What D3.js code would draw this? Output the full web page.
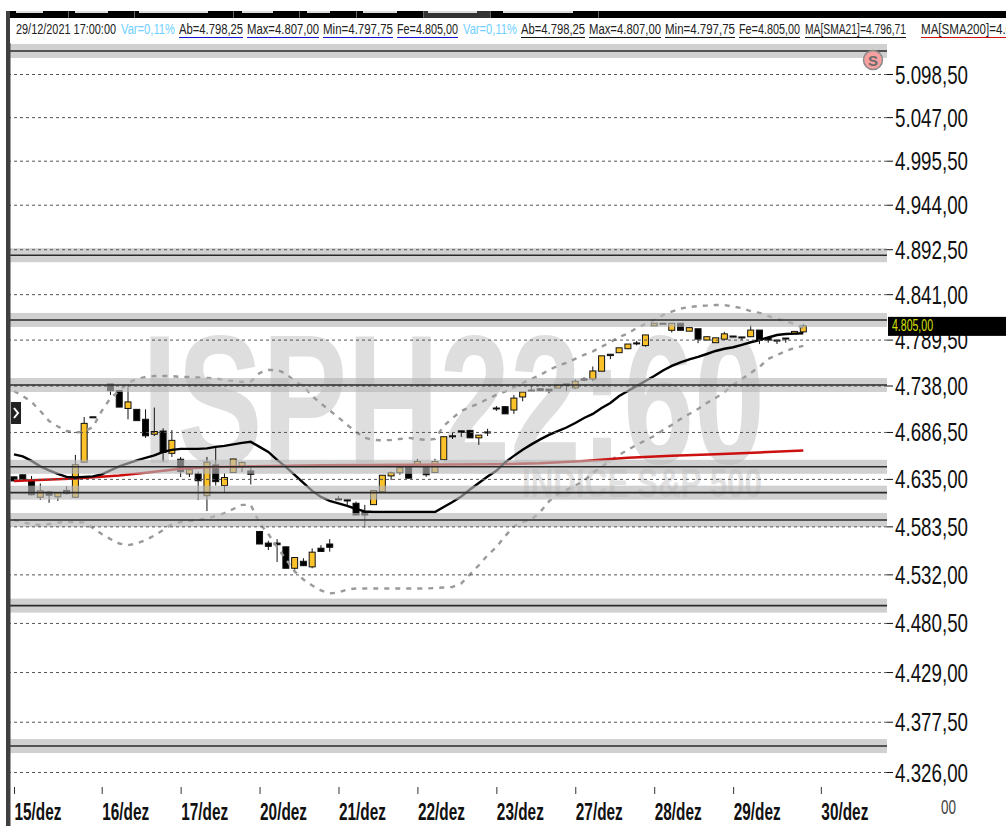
<!DOCTYPE html>
<html>
<head>
<meta charset="utf-8">
<title>ISPH22:60</title>
<script src="https://cdn.jsdelivr.net/npm/d3@7"></script>
<style>
  html, body { margin: 0; padding: 0; background: #fff; }
  svg { display: block; font-family: "Liberation Sans", Arial, sans-serif; }
</style>
</head>
<body>
<svg id="chart" width="1006" height="826"></svg>
<script>
// candles, one slot per bar (bar 10 is empty in the picture)
var opens = [
  4637.25, 4639.5, 4633, 4615, 4620.75, 4615.5, 4622.5, 4615, 4653.25, 4703.25,
  null, 4739.75, 4732.25, 4712.5, 4711.5, 4700.5, 4684, 4687.5, 4663, 4656.5,
  4640.5, 4640.5, 4616.75, 4650.25, 4627.75, 4642, 4648, 4643.75, 4578, 4565.5,
  4565.5, 4561.5, 4538.5, 4546, 4540, 4560, 4564.5, 4613.5, 4612.75, 4608.5,
  4598.25, 4607, 4621, 4638.25, 4641.75, 4649.25, 4648.5, 4649.25, 4642, 4656,
  4682.25, 4687.75, 4688.25, 4680, 4686.5, 4713, 4714.5, 4710.75, 4725.25, 4733,
  4734.5, 4734, 4735.25, 4739.75, 4735.25, 4745.5, 4745.25, 4754, 4773, 4774.75,
  4779.25, 4785.75, 4782.75, 4805, 4808, 4800, 4808, 4799, 4801.75, 4789,
  4786, 4790, 4793.5, 4792.5, 4792.75, 4800.25, 4790.75, 4789, 4791.25, 4796,
  4798.25
];
var highs = [
  4637.25, 4639.5, 4638.25, 4630, 4622, 4620, 4627, 4661.25, 4703, 4703.25,
  null, 4739.75, 4733, 4738.5, 4711.5, 4711.5, 4713.5, 4690.5, 4688.5, 4659,
  4645, 4643, 4659, 4668.75, 4641, 4657, 4654, 4648.5, 4578, 4568,
  4569.75, 4561.5, 4550, 4549.25, 4559.75, 4563.25, 4569.75, 4616.5, 4612.75, 4610.25,
  4606.75, 4622.25, 4639, 4643, 4650.25, 4649.25, 4656.5, 4649.25, 4657, 4681.25,
  4685.25, 4687.75, 4688.25, 4683, 4690, 4715.25, 4714.5, 4727.5, 4730.75, 4737.5,
  4734.5, 4734, 4738.25, 4739.75, 4745, 4747.25, 4759.25, 4771.25, 4773, 4780.25,
  4784.5, 4788, 4794.75, 4808, 4808, 4808, 4808, 4803, 4801.75, 4792.75,
  4791.5, 4798.25, 4793.5, 4792.5, 4805.75, 4800.25, 4790.75, 4789, 4791.25, 4798.75,
  4807
];
var lows = [
  4632.75, 4634, 4617, 4612, 4609, 4611, 4618, 4614.25, 4653.25, 4703.25,
  null, 4727.5, 4714, 4700.5, 4699, 4680, 4682, 4653.5, 4659, 4637,
  4637, 4612, 4600, 4627.75, 4619.5, 4641.5, 4642.5, 4629, 4564.5, 4558,
  4545.25, 4538.5, 4534.25, 4541.25, 4538.5, 4556.25, 4556.25, 4612, 4606.75, 4595.75,
  4582.25, 4607, 4621, 4633.75, 4639.5, 4635.75, 4648.5, 4637.25, 4641.5, 4656,
  4678.75, 4681, 4680, 4672.25, 4682, 4709.75, 4706.5, 4706.5, 4720.5, 4732.5,
  4732, 4729.5, 4735.25, 4731.75, 4734, 4742.75, 4742.75, 4754, 4767.5, 4774.75,
  4778.75, 4783, 4781.5, 4805, 4807.25, 4797.5, 4800, 4799, 4785.5, 4789,
  4786, 4789, 4793.5, 4789, 4792.75, 4784.5, 4786, 4784.5, 4786, 4796,
  4797.75
];
var closes = [
  4632.75, 4634, 4617.75, 4622, 4617.25, 4620, 4619, 4650.5, 4696, 4703.25,
  null, 4732.25, 4714, 4719.75, 4699, 4682.25, 4687, 4664, 4677.25, 4643,
  4645, 4633, 4653.25, 4632, 4636.5, 4656.75, 4653, 4640, 4564.5, 4562,
  4563.75, 4538.5, 4550, 4541.25, 4555.75, 4556.5, 4561, 4612.25, 4611, 4595.75,
  4595.75, 4622.25, 4639, 4641.75, 4647.25, 4635.75, 4654, 4639.5, 4654, 4681.25,
  4682, 4686, 4680, 4683, 4686.25, 4712.5, 4706.5, 4724, 4730.75, 4732.5,
  4732.25, 4732, 4738.25, 4738.5, 4742.75, 4744, 4754.25, 4771.25, 4771.5, 4780.25,
  4784.5, 4785.5, 4794.75, 4808, 4807.25, 4808, 4800, 4803, 4790, 4792.75,
  4791.5, 4796, 4793.5, 4792.25, 4800.25, 4789, 4789, 4788.75, 4791, 4798.75,
  4805
];

// MA[SMA21]
var sma21 = [
  4661.8, 4659.7, 4654.7, 4648.7, 4644.3, 4640.5, 4637.2, 4636.6, 4637.2, 4637.7,
  4639.9, 4644.3, 4648.7, 4652, 4655.3, 4658, 4660.8, 4664.6, 4666.8, 4667.9,
  4667.9, 4667.9, 4668.4, 4670.1, 4671.2, 4672.8, 4674.5, 4675.6, 4670.1, 4664.6,
  4655.8, 4648.2, 4639.4, 4630.6, 4621.9, 4615.4, 4611, 4608.3, 4605.6, 4602.3,
  4599.6, 4599, 4599, 4599, 4599, 4599, 4599, 4599, 4599, 4604.5,
  4609.9, 4615.9, 4623.5, 4630.6, 4637.7, 4643.8, 4653, 4660.2, 4666.8, 4672.8,
  4678.3, 4683.2, 4687.5, 4691.4, 4696.4, 4701.9, 4706.4, 4713, 4718.6, 4726.3,
  4731.9, 4737.5, 4743, 4748.6, 4754.8, 4760, 4763.8, 4767.2, 4770, 4773.3,
  4776.7, 4779.2, 4780.9, 4783.6, 4786.5, 4789, 4791.9, 4794.7, 4795.8, 4796.2,
  4796.71
];

// MA[SMA200] is nearly straight, read at these bars only
var sma200Bars = [0, 7, 12, 15, 19, 22, 27, 35, 45, 55, 60, 65, 70, 75, 80, 85, 90];
var sma200 = [4632.8, 4635.5, 4638.8, 4641.6, 4646, 4647.6, 4648.7, 4649.8, 4650.6, 4651.1, 4652, 4654.7, 4658, 4660.2, 4661.9, 4664, 4666.2];

// bandas, dashed
var upperBand = [
  4731.9, 4726.3, 4719.7, 4709.7, 4698.6, 4692.5, 4687.5, 4685.9, 4687, 4691.9,
  4709.7, 4724.1, 4731.9, 4740.8, 4745.3, 4747.5, 4748.6, 4748.6, 4748.6, 4747.5,
  4747.5, 4747, 4746.4, 4745.8, 4744.2, 4743, 4742, 4742.5, 4752, 4755.4,
  4755.4, 4751.5, 4743, 4737.5, 4726.3, 4718, 4710.2, 4702.5, 4694.2, 4686.4,
  4680, 4677.7, 4677.2, 4677.7, 4678.8, 4680, 4678.8, 4677.7, 4678.8, 4693.1,
  4701.9, 4709.7, 4714.1, 4718, 4723, 4727.5, 4731.3, 4735.8, 4740.8, 4745.3,
  4749.8, 4755.4, 4760, 4763.4, 4767.9, 4772.4, 4776.2, 4781.4, 4786.7, 4792.4,
  4796.4, 4802.6, 4807.1, 4811.6, 4817.3, 4821.2, 4824.6, 4826.3, 4827.5, 4828,
  4828.6, 4828.6, 4826.9, 4825.2, 4821.8, 4819.6, 4816.2, 4812.8, 4810.5, 4807.1,
  4802.6
];
var lowerBand = [
  4590.4, 4588.2, 4585.5, 4584.9, 4586, 4587.6, 4588.2, 4588.2, 4587.6, 4581.7,
  4575.2, 4569.8, 4565, 4563.3, 4565, 4568.7, 4573.6, 4579.5, 4586, 4588.2,
  4589.3, 4590.4, 4592, 4594.7, 4597.9, 4602.3, 4606.7, 4606.7, 4587.1, 4575.2,
  4561.2, 4548.2, 4535.2, 4526.6, 4520.2, 4514.9, 4511.7, 4512.7, 4516, 4517,
  4517, 4517, 4517, 4517, 4517, 4517, 4517, 4517, 4517.5, 4518,
  4518.6, 4522.4, 4532, 4541.7, 4552.5, 4561.2, 4573, 4583.3, 4588.2, 4590.9,
  4599, 4610.5, 4618.7, 4623, 4627.9, 4632.8, 4641.6, 4648.2, 4654.7, 4661.3,
  4666.8, 4672.3, 4677.2, 4682.1, 4688.6, 4694.2, 4700.8, 4706.4, 4711.9, 4718.6,
  4724.1, 4730.8, 4738.6, 4745.3, 4752, 4758.8, 4767.7, 4772, 4776.7, 4780.3,
  4782.5
];

// horizontal levels with the grey zone round them
var levels = [5126.2, 4885.6, 4811.7, 4738.6, 4648.2, 4620, 4590.4, 4498.8, 4352.5];

var priceTicks = [5098.5, 5047, 4995.5, 4944, 4892.5, 4841, 4789.5, 4738, 4686.5, 4635, 4583.5, 4532, 4480.5, 4429, 4377.5, 4326];

var dayBars = [0, 10, 19, 28, 37, 46, 55, 64, 73, 82, 92];
var dayLabels = ["15/dez", "16/dez", "17/dez", "20/dez", "21/dez", "22/dez", "23/dez", "27/dez", "28/dez", "29/dez", "30/dez"];

var lastPrice = 4805;

var infoTexts = [
  { t: "29/12/2021 17:00:00", x: 16, w: 100, c: "#222" },
  { t: "Var=0,11%", x: 121, w: 54, c: "#6fd0ff" },
  { t: "Ab=4.798,25", x: 179, w: 64, c: "#222", u: "#1010d0" },
  { t: "Max=4.807,00", x: 247, w: 72, c: "#222", u: "#1010d0" },
  { t: "Min=4.797,75", x: 323, w: 70, c: "#222", u: "#1010d0" },
  { t: "Fe=4.805,00", x: 397, w: 61, c: "#222", u: "#1010d0" },
  { t: "Var=0,11%", x: 463, w: 54, c: "#6fd0ff" },
  { t: "Ab=4.798,25", x: 521, w: 64, c: "#222", u: "#111" },
  { t: "Max=4.807,00", x: 589, w: 72, c: "#222", u: "#111" },
  { t: "Min=4.797,75", x: 665, w: 70, c: "#222", u: "#111" },
  { t: "Fe=4.805,00", x: 739, w: 61, c: "#222", u: "#111" },
  { t: "MA[SMA21]=4.796,71", x: 805, w: 101, c: "#222", u: "#111" },
  { t: "MA[SMA200]=4.666,20", x: 921, w: 120, c: "#222", u: "#d01010" }
];

var bars = d3.range(opens.length);
var xScale = d3.scaleLinear().domain([0, 90]).range([14, 803.3]);
var yScale = d3.scaleLog().domain([5098.5, 4326]).range([74, 772]);

var plotLeft = 10, plotRight = 887;
var svg = d3.select("#chart");

// watermark goes first, everything sits on it
svg.append("text")
  .attr("transform", "translate(142,463) scale(0.692,1)")
  .attr("font-size", 184).attr("font-weight", "bold").attr("fill", "#dedede")
  .text("ISPH22:60");
svg.append("text")
  .attr("x", 522).attr("y", 497)
  .attr("textLength", 240).attr("lengthAdjust", "spacingAndGlyphs")
  .attr("font-size", 40).attr("font-weight", "bold").attr("fill", "#e2e2e2")
  .text("INDICE S&P 500");

// candles
var candles = svg.append("g").selectAll("g")
  .data(bars.filter(function (i) { return opens[i] !== null; }))
  .join("g");

candles.append("line")
  .attr("x1", function (i) { return xScale(i); })
  .attr("x2", function (i) { return xScale(i); })
  .attr("y1", function (i) { return yScale(highs[i]); })
  .attr("y2", function (i) { return yScale(lows[i]); })
  .attr("stroke", "#111").attr("stroke-width", 1);

candles.append("rect")
  .attr("x", function (i) { return xScale(i) - 3; })
  .attr("width", 6)
  .attr("y", function (i) { return yScale(Math.max(opens[i], closes[i])); })
  .attr("height", function (i) { return Math.max(1, Math.abs(yScale(opens[i]) - yScale(closes[i]))); })
  .attr("fill", function (i) { return closes[i] > opens[i] ? "#fcc22a" : "#000"; })
  .attr("stroke", "#111").attr("stroke-width", 1);

// moving averages and bands
var lineByBar = d3.line()
  .x(function (d, i) { return xScale(i); })
  .y(function (d) { return yScale(d); });

svg.append("path").datum(upperBand)
  .attr("fill", "none").attr("stroke", "#9a9a9a").attr("stroke-width", 2.4)
  .attr("stroke-dasharray", "5,6").attr("d", lineByBar);
svg.append("path").datum(lowerBand)
  .attr("fill", "none").attr("stroke", "#9a9a9a").attr("stroke-width", 2.4)
  .attr("stroke-dasharray", "5,6").attr("d", lineByBar);

var line200 = d3.line()
  .x(function (d, i) { return xScale(sma200Bars[i]); })
  .y(function (d) { return yScale(d); });
svg.append("path").datum(sma200)
  .attr("fill", "none").attr("stroke", "#cc0f0f").attr("stroke-width", 2.5).attr("d", line200);

svg.append("path").datum(sma21)
  .attr("fill", "none").attr("stroke", "#000").attr("stroke-width", 2.4).attr("d", lineByBar);

// grey zones lie over the candles and fade them
svg.append("g").selectAll("rect")
  .data(levels)
  .join("rect")
  .attr("x", plotLeft).attr("width", plotRight - plotLeft)
  .attr("y", function (d) { return yScale(d) - 7; })
  .attr("height", 14)
  .attr("fill", "rgb(183,183,183)").attr("fill-opacity", 0.65);

// dashed grid and price labels
var fmt = d3.formatLocale({ decimal: ",", thousands: ".", grouping: [3], currency: ["", ""] }).format(",.2f");

var yAxis = svg.append("g")
  .attr("transform", "translate(" + plotRight + ",0)")
  .call(d3.axisRight(yScale).tickValues(priceTicks).tickSize(6).tickFormat(fmt));
yAxis.select(".domain").remove();
yAxis.selectAll(".tick line").attr("stroke", "#111");
yAxis.selectAll(".tick text")
  .attr("x", 8)
  .attr("dy", "0.36em")
  .attr("font-size", 25)
  .attr("font-family", "'Liberation Sans', Arial, sans-serif")
  .attr("fill", "#111")
  .attr("textLength", 73).attr("lengthAdjust", "spacingAndGlyphs");

svg.append("g")
  .attr("transform", "translate(" + plotRight + ",0)")
  .call(d3.axisLeft(yScale).tickValues(priceTicks).tickSize(plotRight - plotLeft).tickFormat(""))
  .call(function (g) { g.select(".domain").remove(); })
  .selectAll(".tick line")
  .attr("stroke", "#555").attr("stroke-dasharray", "3,3");

// level lines
svg.append("g").selectAll("line")
  .data(levels)
  .join("line")
  .attr("x1", plotLeft).attr("x2", plotRight)
  .attr("y1", function (d) { return yScale(d); })
  .attr("y2", function (d) { return yScale(d); })
  .attr("stroke", "#2a2a2a").attr("stroke-width", 1.6);

// date axis
var xDayScale = d3.scaleLinear().domain([0, 90]).range([14, 803.3]);
var xAxis = svg.append("g")
  .attr("transform", "translate(0,787)")
  .call(d3.axisBottom(xDayScale).tickValues(dayBars).tickSize(7)
    .tickFormat(function (d, i) { return dayLabels[i]; }));
xAxis.select(".domain").remove();
xAxis.selectAll(".tick line").attr("stroke", "#333");
xAxis.selectAll(".tick text")
  .attr("y", 33).attr("dy", 0)
  .attr("text-anchor", "start")
  .attr("font-size", 23).attr("font-weight", "bold")
  .attr("font-family", "'Liberation Sans', Arial, sans-serif")
  .attr("fill", "#111")
  .attr("textLength", 47).attr("lengthAdjust", "spacingAndGlyphs");

svg.append("text")
  .attr("x", 941).attr("y", 814)
  .attr("font-size", 20).attr("fill", "#444")
  .attr("textLength", 15).attr("lengthAdjust", "spacingAndGlyphs")
  .text("00");

// last price tag
svg.append("rect")
  .attr("x", 888).attr("width", 118)
  .attr("y", yScale(lastPrice) - 9).attr("height", 19)
  .attr("fill", "#000");
svg.append("text")
  .attr("x", 892).attr("y", yScale(lastPrice) + 5.5)
  .attr("font-size", 16).attr("fill", "#d8e000")
  .attr("textLength", 41).attr("lengthAdjust", "spacingAndGlyphs")
  .text(fmt(lastPrice));

// S marker
svg.append("circle")
  .attr("cx", 873).attr("cy", 60).attr("r", 9.5)
  .attr("fill", "#f6a0a0").attr("stroke", "#8a8a8a").attr("stroke-width", 1.5);
svg.append("text")
  .attr("x", 873).attr("y", 65.5).attr("text-anchor", "middle")
  .attr("font-size", 15).attr("font-weight", "bold").attr("fill", "#6a6a6a")
  .text("S");

// collapse button on the left
svg.append("rect").attr("x", 11).attr("y", 402).attr("width", 10).attr("height", 22).attr("fill", "#222");
svg.append("path")
  .attr("d", "M14,408L18,413L14,418")
  .attr("fill", "none").attr("stroke", "#fff").attr("stroke-width", 2);

// top strip and left border
svg.append("rect").attr("x", 6).attr("y", 11).attr("width", 4.5).attr("height", 815).attr("fill", "#404040");
svg.append("rect").attr("x", 10).attr("y", 11).attr("width", 996).attr("height", 7).attr("fill", "#000");
svg.append("rect").attr("x", 423).attr("y", 11).attr("width", 67).attr("height", 7).attr("fill", "#333");
svg.append("g").selectAll("rect")
  .data([[16, 43], [75, 108], [139, 208], [242, 273], [307, 330], [363, 397], [428, 477], [503, 573]])
  .join("rect")
  .attr("x", function (d) { return d[0]; }).attr("width", function (d) { return d[1] - d[0]; })
  .attr("y", 11).attr("height", 2).attr("fill", "#ddd");
svg.append("g").selectAll("rect")
  .data([68, 134, 233, 299, 356, 423, 490, 598])
  .join("rect")
  .attr("x", function (d) { return d; }).attr("width", 1)
  .attr("y", 11).attr("height", 7).attr("fill", "#666");

// info line
svg.append("rect").attr("x", 10).attr("y", 18).attr("width", 996).attr("height", 25).attr("fill", "#fff");
var info = svg.append("g").selectAll("g").data(infoTexts).join("g");
info.append("text")
  .attr("x", function (d) { return d.x; }).attr("y", 34)
  .attr("font-size", 15.5)
  .attr("fill", function (d) { return d.c; })
  .attr("textLength", function (d) { return d.w; }).attr("lengthAdjust", "spacingAndGlyphs")
  .text(function (d) { return d.t; });
info.filter(function (d) { return d.u; }).append("line")
  .attr("x1", function (d) { return d.x; }).attr("x2", function (d) { return d.x + d.w; })
  .attr("y1", 37.5).attr("y2", 37.5)
  .attr("stroke", function (d) { return d.u; }).attr("stroke-width", 1.2);
</script>
</body>
</html>
